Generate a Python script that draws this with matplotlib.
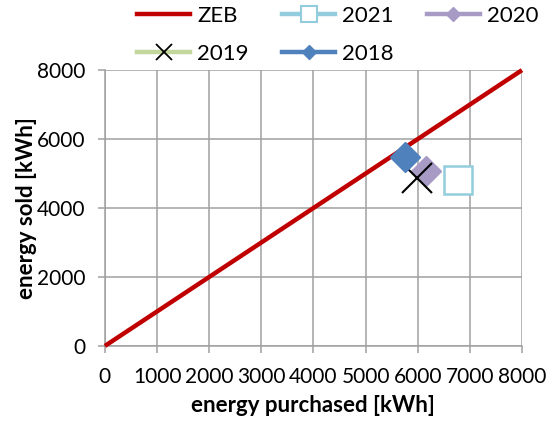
import matplotlib
matplotlib.use("Agg")
import matplotlib.pyplot as plt
from matplotlib.lines import Line2D

plt.rcParams['font.family'] = ['Lato', 'DejaVu Sans']

# ZEB reference line (energy purchased == energy sold)
zeb_x = [0, 8000]
zeb_y = [0, 8000]

# yearly points: (purchased, sold) in kWh
years = ["2021", "2020", "2019", "2018"]
purchased = [6770, 6160, 5990, 5750]
sold = [4800, 5080, 4860, 5480]

ticks = [0, 1000, 2000, 3000, 4000, 5000, 6000, 7000, 8000]
yticks = [0, 2000, 4000, 6000, 8000]

grid_col = "#a0a0a0"
fs = 15

fig = plt.figure(figsize=(5.55, 4.25), dpi=100)
ax = fig.add_axes([0.189, 0.186, 0.7515, 0.649])

ax.plot(zeb_x, zeb_y, color="#c00000", lw=3.2, solid_capstyle="butt", zorder=3,
        clip_on=False)

# 2021 open square
ax.plot(purchased[0], sold[0], marker="s", ms=20.5, mfc="white", mec="#93cddd",
        mew=1.8, ls="none", zorder=4)
# 2020 diamond
ax.plot(purchased[1], sold[1], marker="D", ms=15.5, mfc="#a79bc6", mec="#a79bc6",
        ls="none", zorder=4)
# 2019 cross
ax.plot(purchased[2], sold[2], marker="x", ms=22, mec="black", mew=1.5,
        ls="none", zorder=5)
# 2018 diamond
ax.plot(purchased[3], sold[3], marker="D", ms=15.5, mfc="#4f81bd", mec="#4f81bd",
        ls="none", zorder=6)

ax.set_xlim(0, 8000)
ax.set_ylim(0, 8000)
ax.set_xticks(ticks)
ax.set_yticks(yticks)
ax.grid(True, color=grid_col, lw=1.1)
ax.set_axisbelow(True)
for s in ["top", "right"]:
    ax.spines[s].set_visible(False)
for s in ["left", "bottom"]:
    ax.spines[s].set_color(grid_col)
    ax.spines[s].set_linewidth(1.1)
ax.tick_params(axis="both", length=5, width=1.1, color=grid_col,
               labelsize=fs)
ax.tick_params(axis="x", pad=10)
ax.tick_params(axis="y", pad=9)
ax.set_xlabel("energy purchased [kWh]", fontsize=16, fontweight="bold", labelpad=6)
ax.set_ylabel("energy sold [kWh]", fontsize=16, fontweight="bold", labelpad=0)

handles = [
    Line2D([], [], color="#c00000", lw=3.2),
    Line2D([], [], color="#93cddd", lw=3.2, marker="s", ms=11, mfc="white",
           mec="#93cddd", mew=1.5),
    Line2D([], [], color="#a79bc6", lw=3.2, marker="D", ms=7.5,
           mfc="#a79bc6", mec="#a79bc6"),
    Line2D([], [], color="#c3d69b", lw=3.2, marker="x", ms=11, mec="black",
           mew=1.3),
    Line2D([], [], color="#4f81bd", lw=3.2, marker="D", ms=7.5,
           mfc="#4f81bd", mec="#4f81bd"),
]
labels = ["ZEB", "2021", "2020", "2019", "2018"]
# order so that row 1 = ZEB, 2021, 2020 and row 2 = 2019, 2018
order = [0, 3, 1, 4, 2]
fig.legend([handles[i] for i in order], [labels[i] for i in order],
           loc="upper left", bbox_to_anchor=(137 / 555, 1 - 6 / 425), ncol=3,
           frameon=False, fontsize=16, handlelength=2.4, handletextpad=0.3,
           columnspacing=1.5, labelspacing=0.8, borderpad=0, borderaxespad=0)

fig.savefig("out.png", dpi=100)
